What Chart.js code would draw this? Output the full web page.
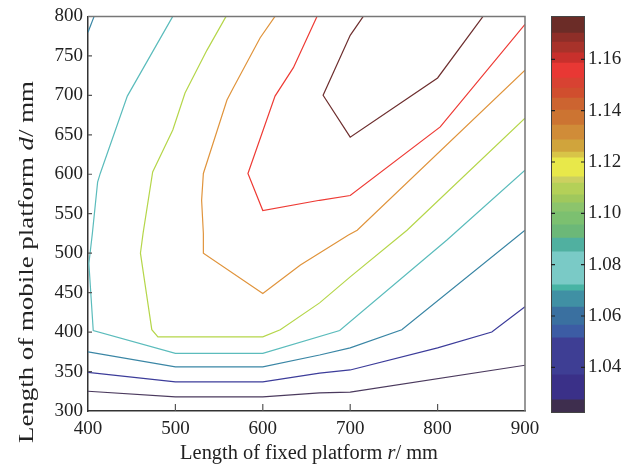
<!DOCTYPE html>
<html><head><meta charset="utf-8">
<script src="https://cdn.jsdelivr.net/npm/chart.js@4/dist/chart.umd.min.js"></script>
<style>
html,body{margin:0;padding:0;background:#fff;}
#wrap{position:relative;width:635px;height:468px;overflow:hidden;}
#main{position:absolute;left:0;top:0;width:635px;height:468px;}
#cbar{position:absolute;left:540px;top:0;width:95px;height:468px;}
</style></head><body>
<div id="wrap"><canvas id="main" width="635" height="468"></canvas><canvas id="cbar" width="95" height="468"></canvas></div>
<script>
// ---- axis ticks ----
const X_TICKS = [400, 500, 600, 700, 800, 900];
const Y_TICKS = [300, 350, 400, 450, 500, 550, 600, 650, 700, 750, 800];
const CB_TICKS = [1.04, 1.06, 1.08, 1.10, 1.12, 1.14, 1.16];

// ---- contour lines (r = fixed platform, d = mobile platform) ----
const C1_R = [400, 500, 600, 665, 700, 900];
const C1_D = [325, 318, 318, 323, 324, 358];
const C2_R = [400, 500, 600, 665, 700, 800, 862, 900];
const C2_D = [349, 337, 337, 348, 352, 380, 400, 432];
const C3_R = [400, 500, 600, 665, 700, 759, 900];
const C3_D = [375, 356, 356, 371, 380, 403, 529];
const C3B_R = [407, 400];
const C3B_D = [800, 780];
const C4_R = [497, 445, 414, 411, 405, 401, 406, 500, 600, 688, 811, 900];
const C4_D = [800, 699, 601, 590, 525, 487, 402, 373, 373, 402, 517, 605];
const C5_R = [558, 536, 511, 497, 474, 463, 460, 473, 480, 600, 620, 665, 700, 765, 900];
const C5_D = [800, 757, 703, 656, 603, 525, 500, 403, 394, 394, 403, 437, 470, 529, 671];
const C6_R = [614, 597, 566, 559, 532, 530, 532, 532, 600, 643, 698, 708, 900];
const C6_D = [800, 773, 709, 694, 601, 567, 525, 500, 449, 485, 523, 529, 732];
const C7_R = [662, 635, 614, 583, 600, 665, 700, 803, 900];
const C7_D = [800, 735, 699, 601, 554, 567, 573, 660, 790];
const C8_R = [715, 700, 669, 700, 800, 852];
const C8_D = [800, 776, 700, 647, 722, 800];

const LINE_R = [C1_R, C2_R, C3_R, C3B_R, C4_R, C5_R, C6_R, C7_R, C8_R];
const LINE_D = [C1_D, C2_D, C3_D, C3B_D, C4_D, C5_D, C6_D, C7_D, C8_D];
const LINE_COLORS = ['#4b3a5e', '#3c3c9a', '#3a86a5', '#3a86a5', '#5bbcbc', '#b5d64a', '#e0943c', '#ee3b35', '#6e2f2f'];

// ---- colour bar segments ----
const CB_LO = [1.0222, 1.0273, 1.0371, 1.0515, 1.0565, 1.0635, 1.0698, 1.0721, 1.0850, 1.0904, 1.0955, 1.1006, 1.1041, 1.1072, 1.1118, 1.1142, 1.1216, 1.1239, 1.1286, 1.1344, 1.1402, 1.1449, 1.1488, 1.1527, 1.1586, 1.1625, 1.1667, 1.1702];
const CB_HI = [1.0273, 1.0371, 1.0515, 1.0565, 1.0635, 1.0698, 1.0721, 1.0850, 1.0904, 1.0955, 1.1006, 1.1041, 1.1072, 1.1118, 1.1142, 1.1216, 1.1239, 1.1286, 1.1344, 1.1402, 1.1449, 1.1488, 1.1527, 1.1586, 1.1625, 1.1667, 1.1702, 1.1769];
const CB_COLORS = ['#3e2e4e', '#3a3088', '#3e3e94', '#3c5ca4', '#3a70a0', '#4090a4', '#48b4a4', '#7acac6', '#50b0a0', '#6cb878', '#7cc070', '#8cc46c', '#a0c85c', '#b4d058', '#ccd060', '#e8e84a', '#d8c448', '#d0a43c', '#d08c38', '#cc7432', '#cc6430', '#d04e2e', '#d84232', '#e83834', '#c8302c', '#a8322a', '#8e2e28', '#6b2c27'];

const FONT = 'Liberation Serif';

function drawMixed(ctx, parts, size, cx, cy, rot, sx) {
  ctx.save();
  ctx.translate(cx, cy);
  ctx.rotate(rot);
  ctx.scale(sx, 1);
  ctx.fillStyle = '#222';
  ctx.textBaseline = 'alphabetic';
  ctx.textAlign = 'left';
  let total = 0;
  const w = parts.map(p => { ctx.font = (p[1] ? 'italic ' : '') + size + 'px "' + FONT + '"'; const m = ctx.measureText(p[0]).width; total += m; return m; });
  let x = -total / 2;
  parts.forEach((p, i) => { ctx.font = (p[1] ? 'italic ' : '') + size + 'px "' + FONT + '"'; ctx.fillText(p[0], x, 0); x += w[i]; });
  ctx.restore();
}

const framePlugin = {
  id: 'frame',
  afterDraw(chart) {
    const ctx = chart.ctx, a = chart.chartArea;
    const xs = chart.scales.x, ys = chart.scales.y;
    ctx.save();
    ctx.strokeStyle = '#777';
    ctx.lineWidth = 1.5;
    ctx.beginPath();
    ctx.moveTo(a.left, a.top); ctx.lineTo(a.right, a.top); ctx.lineTo(a.right, a.bottom);
    ctx.stroke();
    ctx.strokeStyle = '#555';
    ctx.lineWidth = 1.2;
    ctx.beginPath();
    X_TICKS.forEach(v => { const p = xs.getPixelForValue(v); if (v > 400 && v < 900) { ctx.moveTo(p, a.bottom); ctx.lineTo(p, a.bottom - 7); } });
    Y_TICKS.forEach(v => { const p = ys.getPixelForValue(v); if (v > 300 && v < 800) { ctx.moveTo(a.left, p); ctx.lineTo(a.left + 4, p); } });
    ctx.stroke();
    ctx.restore();
    drawMixed(ctx, [['Length of fixed platform ', false], ['r', true], ['/ mm', false]], 20, 309, 459, 0, 1.02);
    drawMixed(ctx, [['Length of mobile platform ', false], ['d', true], ['/ mm', false]], 21, 33, 262, -Math.PI / 2, 1.28);
  }
};

const datasets = LINE_R.map((rs, i) => ({
  data: rs.map((r, j) => ({ x: r, y: LINE_D[i][j] })),
  showLine: true,
  borderColor: LINE_COLORS[i],
  borderWidth: 1.2,
  pointRadius: 0,
  tension: 0,
  fill: false
}));

new Chart(document.getElementById('main'), {
  type: 'scatter',
  data: { datasets },
  options: {
    responsive: false, animation: false, devicePixelRatio: 1,
    layout: { padding: { left: 0, top: 16, right: 110, bottom: 0 } },
    plugins: { legend: { display: false }, tooltip: { enabled: false } },
    scales: {
      x: {
        type: 'linear', min: 400, max: 900,
        afterBuildTicks: s => { s.ticks = X_TICKS.map(v => ({ value: v })); },
        afterFit: s => { s.height = 57; },
        grid: { display: false, drawTicks: false },
        border: { display: true, color: '#333', width: 1.5 },
        ticks: { font: { family: FONT, size: 19 }, color: '#222', padding: 7, maxRotation: 0 }
      },
      y: {
        type: 'linear', min: 300, max: 800,
        afterBuildTicks: s => { s.ticks = Y_TICKS.map(v => ({ value: v })); },
        afterFit: s => { s.width = 88; },
        grid: { display: false, drawTicks: false },
        border: { display: true, color: '#333', width: 1.5 },
        ticks: { font: { family: FONT, size: 19 }, color: '#222', padding: 5 }
      }
    }
  },
  plugins: [framePlugin]
});

const cbPlugin = {
  id: 'cbframe',
  afterDraw(chart) {
    const ctx = chart.ctx, a = chart.chartArea, ys = chart.scales.y;
    ctx.save();
    ctx.strokeStyle = '#444';
    ctx.lineWidth = 1;
    ctx.strokeRect(a.left + 0.5, a.top + 0.5, a.right - a.left - 1, a.bottom - a.top - 1);
    ctx.strokeStyle = '#222';
    ctx.lineWidth = 1.2;
    ctx.beginPath();
    CB_TICKS.forEach(v => { const p = ys.getPixelForValue(v); ctx.moveTo(a.left, p); ctx.lineTo(a.left + 4, p); ctx.moveTo(a.right, p); ctx.lineTo(a.right - 4, p); });
    ctx.stroke();
    ctx.restore();
  }
};

new Chart(document.getElementById('cbar'), {
  type: 'bar',
  data: {
    labels: [''],
    datasets: CB_LO.map((lo, i) => ({
      data: [[lo, CB_HI[i]]],
      backgroundColor: CB_COLORS[i],
      borderWidth: 0,
      grouped: false,
      barPercentage: 1,
      categoryPercentage: 1
    }))
  },
  options: {
    responsive: false, animation: false, devicePixelRatio: 1,
    layout: { padding: { left: 11, top: 16, right: 0, bottom: 55 } },
    plugins: { legend: { display: false }, tooltip: { enabled: false } },
    scales: {
      x: { display: false },
      y: {
        position: 'right', min: 1.0222, max: 1.1769,
        afterBuildTicks: s => { s.ticks = CB_TICKS.map(v => ({ value: v })); },
        afterFit: s => { s.width = 50; },
        grid: { display: false, drawTicks: false },
        border: { display: false },
        ticks: { font: { family: FONT, size: 19 }, color: '#222', padding: 3, callback: v => Number(v).toFixed(2) }
      }
    }
  },
  plugins: [cbPlugin]
});
</script>
</body></html>
